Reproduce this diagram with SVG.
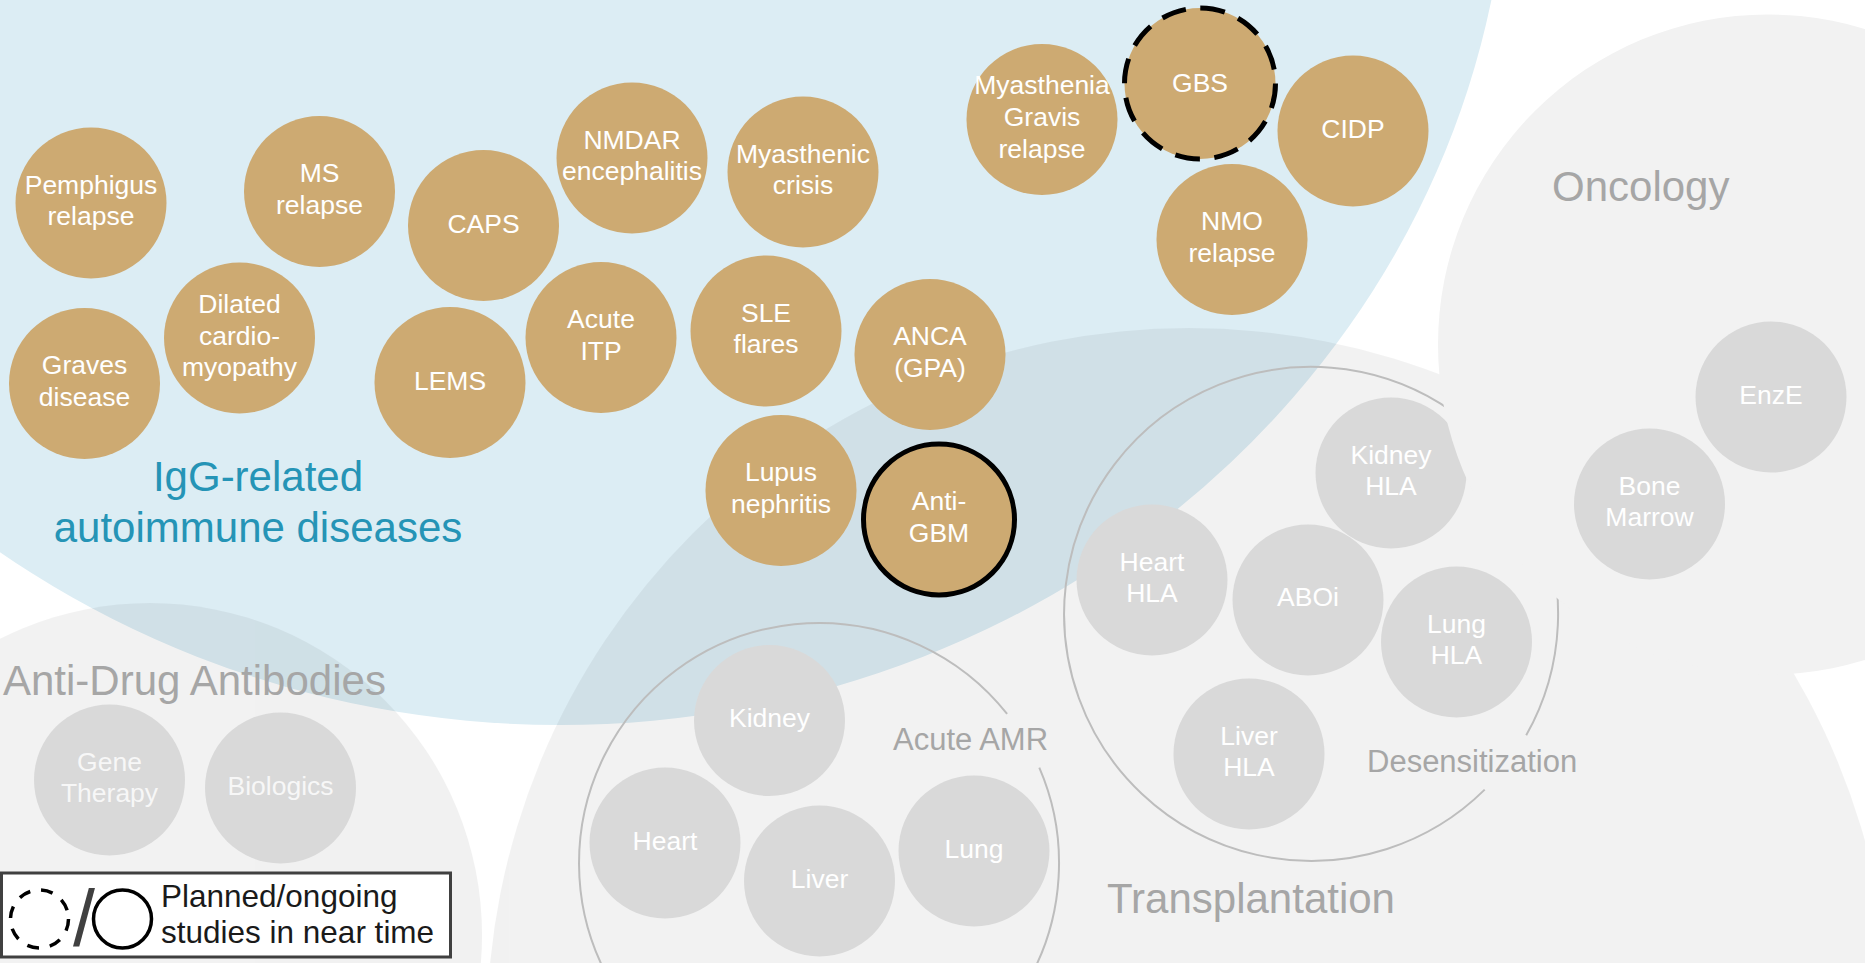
<svg xmlns="http://www.w3.org/2000/svg" width="1865" height="963" viewBox="0 0 1865 963">
<style>
.tan{fill:#CDAA72;}
.gn{fill:#D9D9D9;}
.nt{font-family:"Liberation Sans",Arial,sans-serif;font-size:26.5px;fill:#FFFFFF;text-anchor:middle;}
.nt2{font-family:"Liberation Sans",Arial,sans-serif;font-size:26.5px;fill:#F7F7F7;text-anchor:middle;}
.lbl{font-family:"Liberation Sans",Arial,sans-serif;font-size:42px;fill:#A6A6A6;}
.sub{font-family:"Liberation Sans",Arial,sans-serif;font-size:31px;fill:#A6A6A6;}
.igg{font-family:"Liberation Sans",Arial,sans-serif;font-size:42px;fill:#2594B6;text-anchor:middle;}
.ring{fill:none;stroke:#BDBDBD;stroke-width:2;}
.leg{font-family:"Liberation Sans",Arial,sans-serif;font-size:31.5px;fill:#1A1A1A;}
</style>
<rect x="0" y="0" width="1865" height="963" fill="#FFFFFF"/>
<g id="regions">
  <ellipse id="igg-region" cx="560" cy="-172" rx="949" ry="897" fill="#DCEDF4"/>
  <g id="gray-regions" opacity="0.05">
    <circle id="ada-region" cx="150" cy="935" r="332" fill="#000000"/>
    <circle id="transplant-region" cx="1189" cy="1030" r="702" fill="#000000"/>
  </g>
</g>
<g id="igg-label">
  <text class="igg" x="258" y="491">IgG-related</text>
  <text class="igg" x="258" y="542">autoimmune diseases</text>
</g>
<g id="n-pemphigus"><circle class="tan" cx="91" cy="203" r="75.5"/><text class="nt"><tspan x="91" y="193.5">Pemphigus</tspan><tspan x="91" y="225">relapse</tspan></text></g>
<g id="n-ms"><circle class="tan" cx="319.5" cy="191.5" r="75.5"/><text class="nt"><tspan x="319.5" y="182">MS</tspan><tspan x="319.5" y="213.5">relapse</tspan></text></g>
<g id="n-caps"><circle class="tan" cx="483.5" cy="225.5" r="75.5"/><text class="nt" x="483.5" y="232.5">CAPS</text></g>
<g id="n-nmdar"><circle class="tan" cx="632" cy="158" r="75.5"/><text class="nt"><tspan x="632" y="148.5">NMDAR</tspan><tspan x="632" y="180">encephalitis</tspan></text></g>
<g id="n-myasthenic"><circle class="tan" cx="803" cy="172" r="75.5"/><text class="nt"><tspan x="803" y="162.5">Myasthenic</tspan><tspan x="803" y="194">crisis</tspan></text></g>
<g id="n-mg"><circle class="tan" cx="1042" cy="119.5" r="75.5"/><text class="nt"><tspan x="1042" y="94">Myasthenia</tspan><tspan x="1042" y="126">Gravis</tspan><tspan x="1042" y="157.5">relapse</tspan></text></g>
<g id="n-gbs"><circle class="tan" cx="1200" cy="83.5" r="75.5" stroke="#000000" stroke-width="5" stroke-dasharray="25 14.5"/><text class="nt" x="1200" y="92">GBS</text></g>
<g id="n-cidp"><circle class="tan" cx="1353" cy="131" r="75.5"/><text class="nt" x="1353" y="138">CIDP</text></g>
<g id="n-nmo"><circle class="tan" cx="1232" cy="239.5" r="75.5"/><text class="nt"><tspan x="1232" y="230">NMO</tspan><tspan x="1232" y="261.5">relapse</tspan></text></g>
<g id="n-graves"><circle class="tan" cx="84.5" cy="383.5" r="75.5"/><text class="nt"><tspan x="84.5" y="374">Graves</tspan><tspan x="84.5" y="405.5">disease</tspan></text></g>
<g id="n-dcm"><circle class="tan" cx="239.5" cy="338" r="75.5"/><text class="nt"><tspan x="239.5" y="312.5">Dilated</tspan><tspan x="239.5" y="344.5">cardio-</tspan><tspan x="239.5" y="376">myopathy</tspan></text></g>
<g id="n-lems"><circle class="tan" cx="450" cy="382.5" r="75.5"/><text class="nt" x="450" y="389.5">LEMS</text></g>
<g id="n-itp"><circle class="tan" cx="601" cy="337.5" r="75.5"/><text class="nt"><tspan x="601" y="328">Acute</tspan><tspan x="601" y="359.5">ITP</tspan></text></g>
<g id="n-sle"><circle class="tan" cx="766" cy="331" r="75.5"/><text class="nt"><tspan x="766" y="321.5">SLE</tspan><tspan x="766" y="353">flares</tspan></text></g>
<g id="n-anca"><circle class="tan" cx="930" cy="354.5" r="75.5"/><text class="nt"><tspan x="930" y="345">ANCA</tspan><tspan x="930" y="376.5">(GPA)</tspan></text></g>
<g id="n-lupus"><circle class="tan" cx="781" cy="490.5" r="75.5"/><text class="nt"><tspan x="781" y="481">Lupus</tspan><tspan x="781" y="512.5">nephritis</tspan></text></g>
<g id="n-antigbm"><circle class="tan" cx="939" cy="519.5" r="75.5" stroke="#000000" stroke-width="5"/><text class="nt"><tspan x="939" y="510">Anti-</tspan><tspan x="939" y="541.5">GBM</tspan></text></g>

<g id="ada">
  <text class="lbl" x="3" y="695">Anti-Drug Antibodies</text>
  <g id="n-gene"><circle class="gn" cx="109.5" cy="780" r="75.5"/><text class="nt2"><tspan x="109.5" y="770.5">Gene</tspan><tspan x="109.5" y="802">Therapy</tspan></text></g>
  <g id="n-biologics"><circle class="gn" cx="280.5" cy="788" r="75.5"/><text class="nt2" x="280.5" y="794.5">Biologics</text></g>
</g>

<g id="connectors">
  <path id="amr-ring" class="ring" d="M1039.3,767.7 A240,240 0 1 1 1007.1,713.9"/>
  <path id="desens-ring" class="ring" d="M1484.7,789.6 A247,247 0 1 1 1526.2,735.3"/>
</g>

<g id="amr">
  <text class="sub" x="893" y="750">Acute AMR</text>
  <g id="n-kidney"><circle class="gn" cx="769.5" cy="720.5" r="75.5"/><text class="nt" x="769.5" y="727">Kidney</text></g>
  <g id="n-heart"><circle class="gn" cx="665" cy="843" r="75.5"/><text class="nt" x="665" y="849.5">Heart</text></g>
  <g id="n-liver"><circle class="gn" cx="819.5" cy="881" r="75.5"/><text class="nt" x="819.5" y="887.5">Liver</text></g>
  <g id="n-lung"><circle class="gn" cx="974" cy="851" r="75.5"/><text class="nt" x="974" y="857.5">Lung</text></g>
</g>

<g id="desens">
  <text class="sub" x="1367" y="771.5">Desensitization</text>
  <g id="n-hearthla"><circle class="gn" cx="1152" cy="580" r="75.5"/><text class="nt"><tspan x="1152" y="570.5">Heart</tspan><tspan x="1152" y="602">HLA</tspan></text></g>
  <g id="n-aboi"><circle class="gn" cx="1308" cy="600" r="75.5"/><text class="nt" x="1308" y="606">ABOi</text></g>
  <g id="n-lunghla"><circle class="gn" cx="1456.5" cy="642" r="75.5"/><text class="nt"><tspan x="1456.5" y="632.5">Lung</tspan><tspan x="1456.5" y="664">HLA</tspan></text></g>
  <g id="n-liverhla"><circle class="gn" cx="1249" cy="754" r="75.5"/><text class="nt"><tspan x="1249" y="744.5">Liver</tspan><tspan x="1249" y="776">HLA</tspan></text></g>
  <g id="n-kidneyhla"><circle class="gn" cx="1391" cy="473" r="75.5"/><text class="nt"><tspan x="1391" y="463.5">Kidney</tspan><tspan x="1391" y="495">HLA</tspan></text></g>
</g>

<text id="transplant-label" class="lbl" x="1107" y="913">Transplantation</text>

<g id="oncology">
  <circle id="oncology-region" cx="1768" cy="344.5" r="330" fill="#F2F2F2"/>
  <text class="lbl" x="1552" y="201">Oncology</text>
  <g id="n-bone"><circle class="gn" cx="1649.5" cy="504" r="75.5"/><text class="nt"><tspan x="1649.5" y="494.5">Bone</tspan><tspan x="1649.5" y="526">Marrow</tspan></text></g>
  <g id="n-enze"><circle class="gn" cx="1771" cy="397" r="75.5"/><text class="nt" x="1771" y="404">EnzE</text></g>
</g>

<g id="legend">
  <rect x="1.5" y="873" width="449" height="84" fill="#FFFFFF" stroke="#404040" stroke-width="3"/>
  <circle cx="39.5" cy="919" r="29" fill="none" stroke="#000000" stroke-width="3.5" stroke-dasharray="12 11"/>
  <text x="73" y="946" font-family="Liberation Sans, Arial, sans-serif" font-size="79" fill="#404040">/</text>
  <circle cx="122.5" cy="919" r="29" fill="none" stroke="#000000" stroke-width="3.5"/>
  <text class="leg" x="161" y="907">Planned/ongoing</text>
  <text class="leg" x="161" y="943">studies in near time</text>
</g>
</svg>
